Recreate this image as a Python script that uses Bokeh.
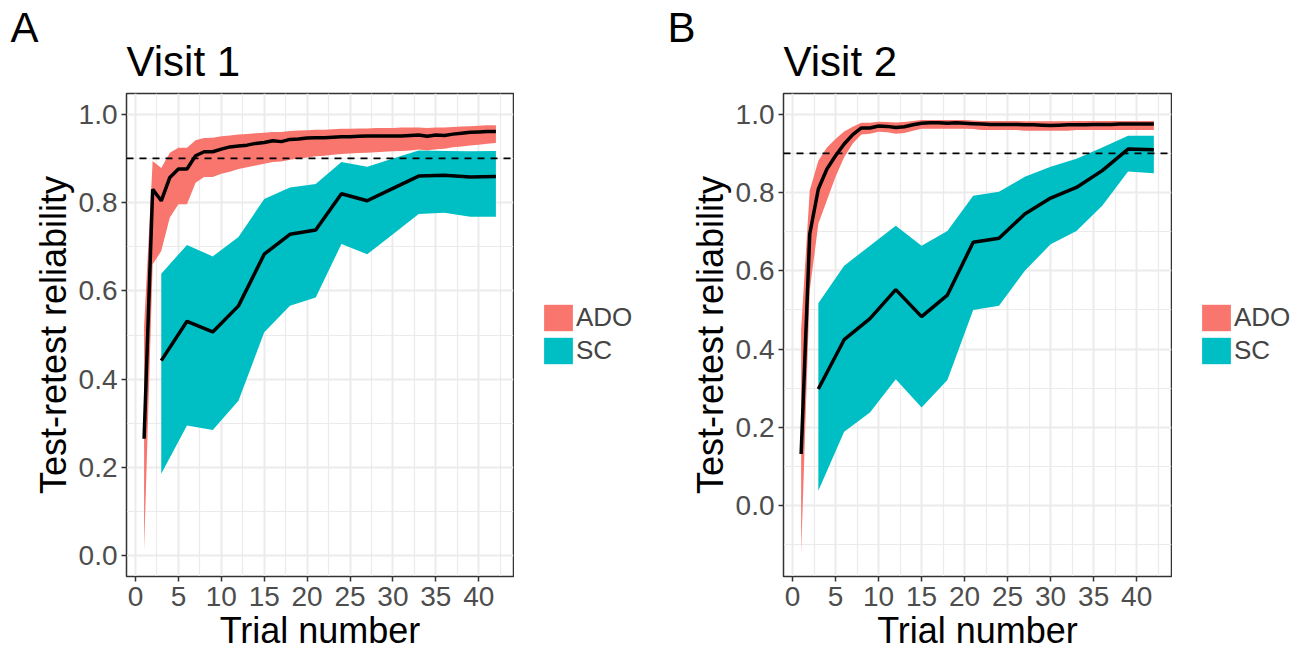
from bokeh.plotting import figure
from bokeh.layouts import row
from bokeh.models import (FixedTicker, Range1d, Span, Legend, LegendItem, Title,
                          CustomJSTickFormatter)
from bokeh.embed import file_html
from bokeh.resources import INLINE

# ---------------- data ----------------
trials_ado = list(range(1, 43))
trials_sc = [3, 6, 9, 12, 15, 18, 21, 24, 27, 30, 33, 36, 39, 42]

# Visit 1
v1_ado_mean = [0.265, 0.830, 0.804, 0.857, 0.876, 0.876, 0.906, 0.915, 0.915, 0.921,
               0.926, 0.928, 0.930, 0.934, 0.936, 0.940, 0.938, 0.943, 0.944, 0.946,
               0.947, 0.947, 0.948, 0.949, 0.949, 0.950, 0.951, 0.951, 0.951, 0.951,
               0.951, 0.952, 0.953, 0.950, 0.953, 0.952, 0.955, 0.957, 0.959, 0.960,
               0.961, 0.961]
v1_ado_hi = [0.520, 0.894, 0.878, 0.913, 0.924, 0.924, 0.941, 0.946, 0.947, 0.950,
             0.952, 0.954, 0.955, 0.957, 0.958, 0.960, 0.960, 0.962, 0.963, 0.964,
             0.965, 0.965, 0.966, 0.967, 0.967, 0.968, 0.968, 0.969, 0.969, 0.969,
             0.970, 0.970, 0.970, 0.969, 0.970, 0.970, 0.971, 0.972, 0.973, 0.974,
             0.975, 0.975]
v1_ado_lo = [0.012, 0.660, 0.690, 0.766, 0.796, 0.796, 0.845, 0.858, 0.858, 0.865,
             0.870, 0.876, 0.880, 0.884, 0.888, 0.892, 0.893, 0.897, 0.900, 0.902,
             0.905, 0.906, 0.908, 0.910, 0.911, 0.912, 0.913, 0.914, 0.915, 0.916,
             0.917, 0.918, 0.920, 0.918, 0.921, 0.922, 0.925, 0.927, 0.929, 0.931,
             0.933, 0.935]
v1_sc_mean = [0.442, 0.531, 0.507, 0.566, 0.683, 0.728, 0.738, 0.820, 0.804, 0.832,
              0.860, 0.862, 0.858, 0.859]
v1_sc_hi = [0.639, 0.704, 0.678, 0.722, 0.808, 0.834, 0.842, 0.892, 0.881, 0.900,
            0.918, 0.917, 0.916, 0.917]
v1_sc_lo = [0.186, 0.295, 0.285, 0.351, 0.506, 0.566, 0.585, 0.706, 0.683, 0.728,
            0.774, 0.777, 0.768, 0.768]

# Visit 2
v2_ado_mean = [0.132, 0.694, 0.809, 0.860, 0.894, 0.924, 0.948, 0.965, 0.965, 0.970,
               0.969, 0.966, 0.968, 0.973, 0.977, 0.978, 0.978, 0.977, 0.978, 0.977,
               0.976, 0.975, 0.974, 0.974, 0.974, 0.974, 0.973, 0.973, 0.972, 0.971,
               0.972, 0.973, 0.973, 0.973, 0.974, 0.974, 0.974, 0.975, 0.975, 0.975,
               0.975, 0.975]
v2_ado_hi = [0.450, 0.805, 0.881, 0.915, 0.937, 0.956, 0.968, 0.978, 0.978, 0.981,
             0.980, 0.979, 0.980, 0.983, 0.985, 0.985, 0.985, 0.985, 0.985, 0.985,
             0.984, 0.983, 0.983, 0.983, 0.983, 0.983, 0.982, 0.982, 0.982, 0.982,
             0.982, 0.982, 0.983, 0.983, 0.983, 0.983, 0.983, 0.983, 0.983, 0.983,
             0.983, 0.983]
v2_ado_lo = [-0.123, 0.550, 0.720, 0.780, 0.840, 0.890, 0.925, 0.948, 0.950, 0.955,
             0.954, 0.950, 0.952, 0.958, 0.963, 0.963, 0.963, 0.963, 0.963, 0.963,
             0.962, 0.960, 0.960, 0.960, 0.960, 0.960, 0.958, 0.958, 0.958, 0.958,
             0.958, 0.958, 0.960, 0.960, 0.960, 0.960, 0.960, 0.960, 0.960, 0.960,
             0.960, 0.960]
v2_sc_mean = [0.298, 0.424, 0.478, 0.552, 0.483, 0.538, 0.673, 0.683, 0.745, 0.786,
              0.813, 0.856, 0.911, 0.909]
v2_sc_hi = [0.517, 0.613, 0.664, 0.715, 0.664, 0.702, 0.792, 0.802, 0.840, 0.866,
            0.886, 0.915, 0.945, 0.945]
v2_sc_lo = [0.038, 0.189, 0.238, 0.323, 0.251, 0.321, 0.500, 0.511, 0.600, 0.668,
            0.702, 0.766, 0.854, 0.849]

group_labels = ["ADO", "SC"]
x_ticks = [0, 5, 10, 15, 20, 25, 30, 35, 40]
x_minor = [2.5, 7.5, 12.5, 17.5, 22.5, 27.5, 32.5, 37.5, 42.5]
y_ticks = [0.0, 0.2, 0.4, 0.6, 0.8, 1.0]
y_minor = [-0.1, 0.1, 0.3, 0.5, 0.7, 0.9]
threshold = 0.9
x_title = "Trial number"
y_title = "Test-retest reliability"

FONT = "Liberation Sans"
ADO_COL = "#F8766D"
SC_COL = "#00BFC4"
GRID = "#EBEBEB"
DARK = "#333333"
H = 650


def make_panel(title, letter, ado_mean, ado_lo, ado_hi, sc_mean, sc_lo, sc_hi,
               yr, width, left_border):
    p = figure(width=width, height=H,
               min_border_left=left_border, min_border_right=1,
               min_border_top=93, min_border_bottom=74,
               x_range=Range1d(-1.05, 44.05), y_range=Range1d(*yr),
               output_backend="svg", toolbar_location=None, title=letter)
    # panel letter (outer title)
    p.title.text_font = FONT
    p.title.text_font_size = "42px"
    p.title.text_font_style = "normal"
    p.title.text_color = "black"
    p.title.align = "left"
    p.title.offset = -116
    p.title.standoff = -47
    # panel title (closest to the frame)
    p.add_layout(Title(text=title, align="left", standoff=17,
                       text_font=FONT, text_font_size="42px",
                       text_font_style="normal", text_color="black"), "above")

    p.varea(x=trials_ado, y1=ado_lo, y2=ado_hi, fill_color=ADO_COL)
    p.varea(x=trials_sc, y1=sc_lo, y2=sc_hi, fill_color=SC_COL)
    p.line(trials_ado, ado_mean, line_color="black", line_width=3.5)
    p.line(trials_sc, sc_mean, line_color="black", line_width=3.5)
    p.add_layout(Span(location=threshold, dimension="width", line_color="black",
                      line_width=1.8, line_dash="7 6"))

    p.xaxis.ticker = FixedTicker(ticks=x_ticks, minor_ticks=x_minor)
    p.yaxis.ticker = FixedTicker(ticks=y_ticks, minor_ticks=y_minor)
    p.yaxis.formatter = CustomJSTickFormatter(code="return tick.toFixed(1);")
    p.yaxis.axis_label = y_title
    for ax in (p.xaxis, p.yaxis):
        ax.axis_line_color = DARK
        ax.major_tick_line_color = DARK
        ax.major_tick_line_width = 1.5
        ax.major_tick_out = 5
        ax.major_tick_in = 0
        ax.minor_tick_line_color = None
        ax.major_label_text_font = FONT
        ax.major_label_text_font_size = "28px"
        ax.major_label_text_color = "#4D4D4D"
        ax.axis_label_text_font = FONT
        ax.axis_label_text_font_size = "36px"
        ax.axis_label_text_font_style = "normal"
        ax.axis_label_text_color = "black"
    p.xaxis.major_label_standoff = 5
    p.xaxis.axis_label_standoff = 0
    p.yaxis.major_label_standoff = 4
    p.yaxis.axis_label_standoff = 2
    # x-axis title, placed below the tick labels
    p.add_layout(Title(text=x_title, align="center", standoff=-2,
                       text_font=FONT, text_font_size="36px",
                       text_font_style="normal", text_color="black"), "below")

    p.xgrid.grid_line_color = GRID
    p.ygrid.grid_line_color = GRID
    p.xgrid.grid_line_width = 2
    p.ygrid.grid_line_width = 2
    p.xgrid.minor_grid_line_color = GRID
    p.ygrid.minor_grid_line_color = GRID
    p.xgrid.minor_grid_line_width = 1.2
    p.ygrid.minor_grid_line_width = 1.2
    p.outline_line_color = DARK
    p.outline_line_width = 1.5
    p.background_fill_color = "white"
    p.border_fill_color = "white"
    return p


def make_legend(width, ado_lo, ado_hi, sc_lo, sc_hi, x_off):
    # a blank strip holding the legend; its ranges leave the data out of view
    lg = figure(width=width, height=H, min_border=0,
                x_range=Range1d(-200, -199), y_range=Range1d(0, 1),
                output_backend="svg", toolbar_location=None)
    lg.axis.visible = False
    lg.grid.visible = False
    lg.outline_line_color = None
    lg.border_fill_color = "white"
    r_ado = lg.varea(x=trials_ado, y1=ado_lo, y2=ado_hi, fill_color=ADO_COL)
    r_sc = lg.varea(x=trials_sc, y1=sc_lo, y2=sc_hi, fill_color=SC_COL)
    legend = Legend(items=[LegendItem(label=group_labels[0], renderers=[r_ado]),
                           LegendItem(label=group_labels[1], renderers=[r_sc])],
                    location=(x_off, 209))
    legend.glyph_width = 36
    legend.glyph_height = 33
    legend.label_height = 33
    legend.label_text_font = FONT
    legend.label_text_font_size = "26px"
    legend.label_standoff = 0
    legend.spacing = 0
    legend.padding = 0
    legend.margin = 0
    legend.border_line_color = None
    legend.background_fill_alpha = 0
    lg.add_layout(legend)
    return lg


pA = make_panel("Visit 1", "A", v1_ado_mean, v1_ado_lo, v1_ado_hi,
                v1_sc_mean, v1_sc_lo, v1_sc_hi, (-0.047, 1.047), 514, 126)
lA = make_legend(141, v1_ado_lo, v1_ado_hi, v1_sc_lo, v1_sc_hi, 26)
pB = make_panel("Visit 2", "B", v2_ado_mean, v2_ado_lo, v2_ado_hi,
                v2_sc_mean, v2_sc_lo, v2_sc_hi, (-0.181, 1.053), 517, 128)
lB = make_legend(139, v2_ado_lo, v2_ado_hi, v2_sc_lo, v2_sc_hi, 26)

layout = row(pA, lA, pB, lB, spacing=0)
open("out.html", "w").write(file_html(layout, INLINE))
